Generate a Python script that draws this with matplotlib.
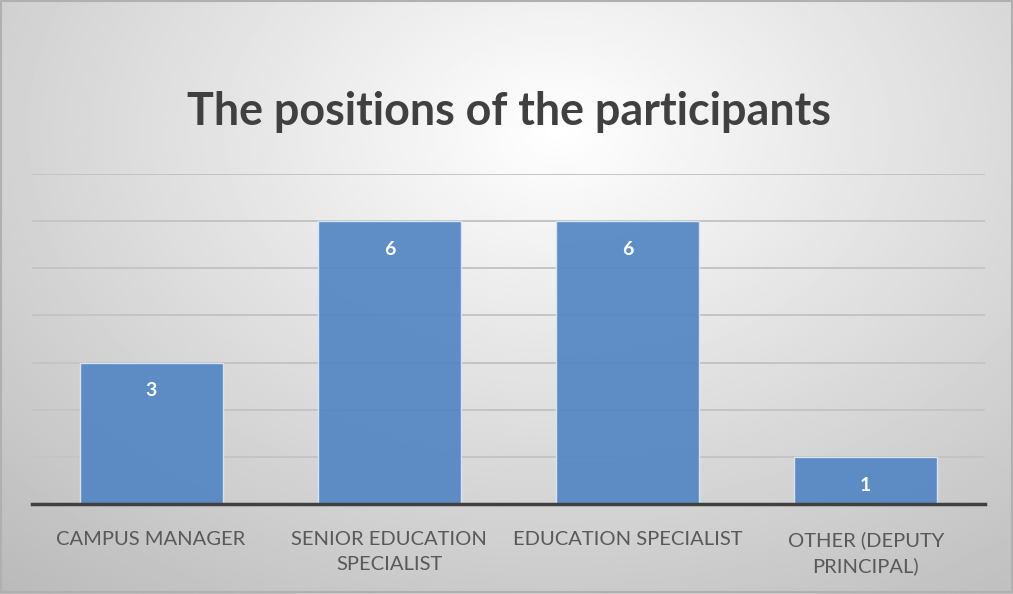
import numpy as np
import matplotlib.pyplot as plt

categories = ['CAMPUS MANAGER', 'SENIOR EDUCATION\nSPECIALIST', 'EDUCATION SPECIALIST', 'OTHER (DEPUTY\nPRINCIPAL)']
counts = [3, 6, 6, 1]
title = 'The positions of the participants'

fig = plt.figure(figsize=(10.13, 5.94), dpi=100)

# radial background gradient (light centre top, grey edges)
bg = fig.add_axes([0, 0, 1, 1], zorder=0)
yy, xx = np.mgrid[0:1:300j, 0:1:500j]
r = np.sqrt(((xx - 0.55) / 0.7) ** 2 + ((yy - 0.22) / 0.85) ** 2)
shade = 1.0 - 0.27 * np.clip(r, 0, 1.2) / 1.2
bg.imshow(shade, cmap='gray', vmin=0, vmax=1, aspect='auto', extent=[0, 1, 1, 0])
bg.set_axis_off()
bg.add_patch(plt.Rectangle((0.001, 0.001), 0.998, 0.996, fill=False, ec='#b0b0b0', lw=1.5))

ax = fig.add_axes([32 / 1013, 90 / 594, 953 / 1013, 330 / 594], zorder=1)
ax.patch.set_alpha(0)
x = np.arange(len(categories))
bars = ax.bar(x, counts, width=0.6, color='#5386c4', edgecolor='#dce8f5', lw=1, zorder=2, alpha=0.92)
ax.set_xlim(-0.5, len(categories) - 0.5)
ax.set_ylim(0, 7)
ax.set_yticks(range(1, 8))
ax.yaxis.grid(True, color='#c4c4c4', lw=1.4, zorder=1)
ax.set_axisbelow(True)
ax.tick_params(left=False, labelleft=False, bottom=False)
for s in ['top', 'right', 'left']:
    ax.spines[s].set_visible(False)
ax.spines['bottom'].set_color('#404040')
ax.spines['bottom'].set_linewidth(2.5)
ax.spines['bottom'].set_zorder(3)
ax.set_xticks(x)
ax.set_xticklabels(categories, fontsize=14.5, color='#595959', family='Lato', linespacing=1.55)
ax.tick_params(axis='x', pad=16)

for xi, v in zip(x, counts):
    ax.text(xi, v - 0.6, str(v), ha='center', va='center', color='white',
            fontsize=14, fontweight='bold', family='Lato', zorder=4)

fig.text(0.502, 1 - 112 / 594, title, ha='center', va='center', fontsize=32.3,
         fontweight='bold', color='#404040', family='Lato')

fig.savefig('out.png', dpi=100)
